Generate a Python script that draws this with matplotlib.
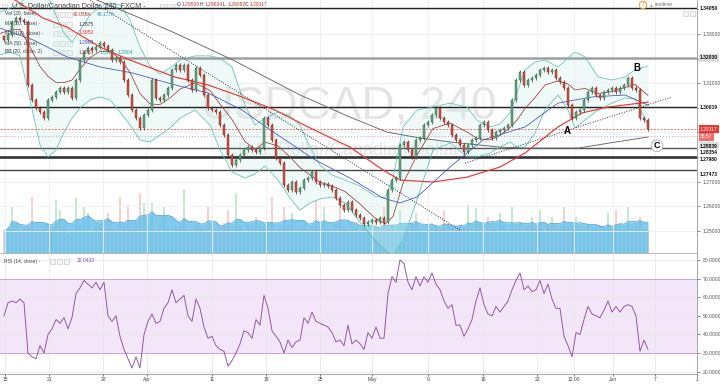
import numpy as np
import pandas as pd
import matplotlib
matplotlib.use("Agg")
import matplotlib.pyplot as plt
from matplotlib.patches import Rectangle

plt.rcParams.update({
    "font.family": ["Liberation Sans", "DejaVu Sans"],
    "font.size": 3.6,
    "axes.linewidth": 0.6,
})

# USDCAD 240 (one candle per ~8h, index = bar number)
closes = np.array([
    1.3276, 1.3296, 1.3349, 1.3365, 1.3357, 1.3349, 1.3093, 1.3032, 1.2999, 1.2983,
    1.2958, 1.3032, 1.3044, 1.3064, 1.3080, 1.3064, 1.3080, 1.3040, 1.3113, 1.3194,
    1.3227, 1.3243, 1.3235, 1.3247, 1.3263, 1.3251, 1.3235, 1.3194, 1.3202, 1.3186,
    1.3113, 1.3052, 1.2991, 1.2958, 1.2918, 1.2971, 1.2991, 1.3113, 1.3040, 1.3032,
    1.3052, 1.3080, 1.3154, 1.3174, 1.3154, 1.3174, 1.3113, 1.3072, 1.3162, 1.3133,
    1.3052, 1.2999, 1.2991, 1.2983, 1.2930, 1.2889, 1.2808, 1.2767, 1.2788, 1.2808,
    1.2828, 1.2840, 1.2828, 1.2820, 1.2836, 1.2958, 1.2930, 1.2869, 1.2796, 1.2775,
    1.2686, 1.2666, 1.2698, 1.2658, 1.2674, 1.2706, 1.2714, 1.2739, 1.2698, 1.2686,
    1.2690, 1.2682, 1.2666, 1.2633, 1.2605, 1.2584, 1.2617, 1.2584, 1.2564, 1.2552,
    1.2527, 1.2535, 1.2544, 1.2535, 1.2552, 1.2535, 1.2666, 1.2706, 1.2714, 1.2848,
    1.2860, 1.2828, 1.2800, 1.2869, 1.2877, 1.2930, 1.2942, 1.2971, 1.2999, 1.2958,
    1.2942, 1.2930, 1.2889, 1.2869, 1.2848, 1.2820, 1.2848, 1.2869, 1.2877, 1.2930,
    1.2942, 1.2910, 1.2877, 1.2901, 1.2910, 1.2918, 1.2930, 1.3032, 1.3113, 1.3146,
    1.3093, 1.3113, 1.3121, 1.3133, 1.3154, 1.3162, 1.3146, 1.3154, 1.3121, 1.3105,
    1.3080, 1.3011, 1.2958, 1.2983, 1.2991, 1.3032, 1.3064, 1.3080, 1.3052, 1.3040,
    1.3064, 1.3072, 1.3080, 1.3064, 1.3080, 1.3093, 1.3121, 1.3080, 1.3072, 1.2958,
    1.2950, 1.29117,
])
open0 = 1.3290

volume_k = np.array([
    40, 48, 84, 52, 36, 45, 50, 102, 44, 38,
    47, 55, 42, 96, 78, 49, 35, 44, 100, 51,
    84, 73, 39, 48, 53, 41, 73, 46, 37, 102,
    50, 87, 43, 55, 109, 91, 48, 91, 40, 52,
    84, 45, 36, 49, 54, 115, 42, 38, 51, 47,
    44, 84, 50, 39, 46, 55, 78, 41, 109, 48,
    37, 52, 45, 65, 49, 43, 56, 102, 40, 47,
    84, 51, 73, 38, 45, 53, 42, 48, 96, 50,
    84, 44, 39, 52, 84, 47, 41, 55, 46, 38,
    50, 43, 49, 54, 40, 84, 45, 52, 39, 78,
    48, 42, 55, 73, 46, 37, 51, 44, 49, 41,
    78, 53, 45, 39, 50, 47, 87, 43, 82, 52,
    40, 65, 48, 44, 73, 51, 38, 84, 46, 53,
    42, 49, 65, 45, 78, 39, 52, 65, 47, 41,
    84, 50, 44, 65, 48, 38, 53, 46, 42, 51,
    45, 73, 39, 78, 52, 47, 84, 43, 49, 65,
    44, 42,
])

rsi = np.array([
    50, 57, 58, 57, 59, 57, 30, 28, 27, 34,
    30, 40, 43, 48, 46, 49, 43, 49, 62, 65,
    69, 67, 65, 68, 64, 68, 50, 47, 50, 39,
    32, 27, 22, 28, 22, 40, 47, 51, 46, 47,
    54, 57, 64, 57, 59, 61, 50, 47, 59, 54,
    44, 38, 39, 34, 32, 31, 23, 26, 30, 35,
    42, 41, 38, 48, 45, 61, 54, 42, 39, 36,
    30, 37, 33, 36, 37, 49, 46, 52, 47, 46,
    45, 44, 41, 36, 37, 34, 45, 35, 37, 35,
    32, 41, 38, 44, 38, 38, 62, 71, 68, 80,
    78, 68, 64, 71, 66, 71, 68, 73, 67, 64,
    58, 54, 56, 45, 45, 39, 43, 48, 58, 65,
    56, 51, 50, 55, 52, 55, 58, 64, 69, 73,
    64, 66, 63, 64, 69, 62, 67, 59, 54, 54,
    39, 34, 28, 41, 40, 48, 55, 51, 50, 49,
    53, 58, 52, 55, 52, 55, 56, 55, 50, 31,
    37, 32.0432,
])

bb_x = [-1, 1.5, 4, 6.5, 9, 11, 13, 15, 17, 19, 21.5, 24, 26.5, 29, 31.5, 34, 36.5, 39,
        41.5, 44, 47.75, 51.5, 54, 57, 60.25, 62.75, 65.25, 68.5, 71.5, 74, 76.5, 79, 82,
        85.25, 89, 92.75, 95.25, 97.25, 99.75, 103.25, 107.25, 111.5, 115.75, 118.25,
        121.5, 124, 126.5, 128.25, 130.25, 132.75, 135.25, 138.5, 141, 142.75, 145.25,
        148.5, 152, 155.25, 157.75, 161]
bb_upper = [1.3389, 1.3406, 1.3426, 1.3463, 1.3487, 1.3455, 1.3377, 1.3304, 1.3267, 1.3316,
            1.3377, 1.3414, 1.3426, 1.3418, 1.3357, 1.3247, 1.3170, 1.3137, 1.3162, 1.3194,
            1.3211, 1.3211, 1.3202, 1.3166, 1.3011, 1.2930, 1.2958, 1.2983, 1.2967, 1.2930,
            1.2840, 1.2767, 1.2727, 1.2706, 1.2682, 1.2641, 1.2633, 1.2714, 1.2922, 1.2991,
            1.3003, 1.3019, 1.3003, 1.2950, 1.2922, 1.2934, 1.2979, 1.3060, 1.3154, 1.3186,
            1.3194, 1.3166, 1.3202, 1.3227, 1.3207, 1.3125, 1.3113, 1.3125, 1.3154, 1.3170]
bb_lower = [1.3215, 1.3227, 1.3211, 1.3032, 1.2849, 1.2800, 1.2828, 1.2901, 1.2958, 1.2999,
            1.3032, 1.3044, 1.3032, 1.2983, 1.2930, 1.2869, 1.2861, 1.2889, 1.2918, 1.2958,
            1.2991, 1.2930, 1.2828, 1.2739, 1.2714, 1.2731, 1.2763, 1.2706, 1.2633, 1.2584,
            1.2613, 1.2629, 1.2637, 1.2613, 1.2535, 1.2462, 1.2422, 1.2401, 1.2462, 1.2625,
            1.2828, 1.2857, 1.2800, 1.2800, 1.2816, 1.2840, 1.2861, 1.2840, 1.2840, 1.2897,
            1.2991, 1.3052, 1.2991, 1.2918, 1.2950, 1.2991, 1.3019, 1.3040, 1.3036, 1.2930]

ma50_x = [-1, 7.25, 15.75, 24, 32.25, 42.75, 51, 59.5, 67.75, 77.75, 86.5, 94.75, 99,
          103.25, 111.5, 119.75, 130.25, 138.5, 147, 155.25, 161]
ma50 = [1.3324, 1.3276, 1.3207, 1.3166, 1.3141, 1.3093, 1.3060, 1.2991, 1.2897, 1.2788,
        1.2714, 1.2633, 1.2613, 1.2637, 1.2759, 1.2869, 1.2922, 1.3019, 1.3044, 1.3052, 1.3011]
ma100_x = [-1, 2.75, 9.75, 15.75, 24, 31.5, 42.75, 51, 59.5, 67.75, 76, 86.5, 94.75, 99,
           107.25, 115.75, 124, 130.25, 138.5, 144.5, 151, 161]
ma100 = [1.3458, 1.3438, 1.3365, 1.3328, 1.3247, 1.3194, 1.3125, 1.3093, 1.3044, 1.2991,
         1.2922, 1.2840, 1.2747, 1.2706, 1.2698, 1.2718, 1.2759, 1.2816, 1.2922, 1.2979,
         1.3003, 1.3023]
ma200_x = [19, 23.25, 34, 42.75, 57.25, 74, 86.5, 95.75, 104, 111.5, 124, 130.25, 143.5,
           151.5, 161]
ma200 = [1.3471, 1.3438, 1.3365, 1.3304, 1.3194, 1.3052, 1.2962, 1.2901, 1.2877, 1.2861,
         1.2840, 1.2836, 1.2836, 1.2857, 1.2881]

trend_dn_x, trend_dn = [21.5, 114.0], [1.3438, 1.2503]
trend_up_x, trend_up = [115.25, 167.0], [1.2775, 1.3044]

levels = [1.34050, 1.32030, 1.30019, 1.28839, 1.28354, 1.27980, 1.27473]
level_colors = ["#222222", "#a0a0a0", "#222222", "#b8b8b8", "#555555", "#333333", "#444444"]
level_widths = [1.0, 1.8, 1.0, 0.8, 1.0, 1.9, 1.0]
level_styles = ["-", "-", "-", ":", "-", "-", "-"]
level_label_shift = [0, 0, 0, 9.7, 4.3, 1.9, 4.4]  # px, labels stacked by the app
last_price = 1.29117

date_pos = [0.25, 11.25, 24.75, 35.75, 52, 65.5, 79, 92, 106, 119.75, 133.25, 142.5,
            152.25, 162.75, 173.25]
date_labels = ["15", "21", "28", "Apr", "11", "18", "25", "May", "9", "16", "23", "12:00",
               "Jun", "7", "1"]
price_ticks = [1.25, 1.26, 1.27, 1.28, 1.29, 1.30, 1.31, 1.32, 1.33, 1.34]
price_shown = [1.25, 1.26, 1.27, 1.31, 1.33]
rsi_ticks = [20, 30, 40, 50, 60, 70, 80]

UP, UP_EDGE = "#6ba583", "#225437"
DN, DN_EDGE = "#d75442", "#5b1a13"
TEAL = "#5fbfb4"
W, H = 720, 384


def fx(px):
    return px / W


def fy(py):
    return 1 - py / H


def icons(px, py, k=3):
    for j in range(k):
        fig.add_artist(Rectangle((fx(px + j * 7), fy(py) - 2.6 / H), 5 / W, 5 / H,
                                 transform=fig.transFigure, fc="#f4f4f4", ec="#c4c4c4", lw=0.4))


fig = plt.figure(figsize=(7.2, 3.84), dpi=100)
ax = fig.add_axes([0, fy(253), fx(697), 253 / H])
axr = fig.add_axes([0, fy(374), fx(697), 121 / H], sharex=ax)
axv = ax.twinx()
ax.set_zorder(axv.get_zorder() + 1)
ax.patch.set_visible(False)

n = len(closes)
idx = np.arange(n)
opens = np.r_[open0, closes[:-1]]
up = closes >= opens

# volume + its MA (bottom of price pane)
axv.bar(idx, volume_k, width=0.55, color=np.where(up, "#7fcf94", "#e8998f"), alpha=0.45, lw=0)
vol_ma = pd.Series(volume_k).rolling(9, min_periods=1).mean()
axv.fill_between(idx, 0, vol_ma, color="#62bbe9", alpha=0.8, lw=0)
axv.plot(idx, vol_ma, color="#3a98d4", lw=0.5)
axv.set_ylim(0, 460)
axv.axis("off")

# watermark
ax.text(0.5, 0.577, "USDCAD, 240", transform=ax.transAxes, fontsize=33, color="#e4e4e4",
        ha="center", va="center", zorder=0)
ax.text(0.5, 0.405, "U.S. Dollar/Canadian Dollar", transform=ax.transAxes, fontsize=13,
        color="#e4e4e4", ha="center", va="center", zorder=0)

# Bollinger bands and moving averages
ax.fill_between(bb_x, bb_lower, bb_upper, color="#cdeeea", alpha=0.3, lw=0, zorder=1)
ax.plot(bb_x, bb_upper, color=TEAL, lw=0.55, zorder=3)
ax.plot(bb_x, bb_lower, color=TEAL, lw=0.55, zorder=3)
ax.plot(bb_x, (np.array(bb_upper) + np.array(bb_lower)) / 2, color="#9b3a3a", lw=0.55, zorder=3)
ax.plot(ma50_x, ma50, color="#3f51b5", lw=0.55, zorder=3)
ax.plot(ma100_x, ma100, color="#e53935", lw=0.85, zorder=3)
ax.plot(ma200_x, ma200, color="#666666", lw=0.65, zorder=3)
ax.plot(trend_dn_x, trend_dn, color="#333333", lw=0.7, ls=(0, (1, 1.6)), zorder=3)
ax.plot(trend_up_x, trend_up, color="#333333", lw=0.7, ls=(0, (1, 1.6)), zorder=3)

# horizontal levels
for lev, c, lw, ls in zip(levels, level_colors, level_widths, level_styles):
    ax.axhline(lev, color=c, lw=lw, ls=ls, zorder=2)
ax.axhline(last_price, color="#e57373", lw=0.7, ls=(0, (2, 1.5)), zorder=2)

# candles
lo, hi = np.minimum(opens, closes), np.maximum(opens, closes)
wick = 0.0007
edges = np.where(up, UP_EDGE, DN_EDGE)
ax.vlines(idx, lo - wick, hi + wick, colors=edges, lw=0.5, zorder=4)
ax.bar(idx, hi - lo, bottom=lo, width=0.6, color=np.where(up, UP, DN), edgecolor=edges,
       linewidth=0.3, zorder=5)

# wave labels
ax.text(140.75, 1.2905, "A", fontsize=7, fontweight="bold", ha="center", va="center", zorder=7)
ax.text(158.25, 1.3162, "B", fontsize=7, fontweight="bold", ha="center", va="center", zorder=7)
ax.text(163.25, 1.2845, "C", fontsize=6.5, fontweight="bold", ha="center", va="center", zorder=7,
        bbox=dict(boxstyle="circle,pad=0.15", fc="white", ec="#999999", lw=0.5))

# price axis
ax.set_xlim(-1, 173.25)
ax.set_ylim(1.24094, 1.34383)
ax.set_yticks(price_ticks)
ax.set_yticklabels([f"{t:.5f}" if round(t, 2) in price_shown else "" for t in price_ticks])
ax.tick_params(axis="y", left=False, labelleft=False, right=True, labelright=True,
               length=2, pad=2, colors="#555555", labelsize=3.6, width=0.5)
ax.set_xticks(date_pos)
ax.tick_params(axis="x", bottom=False, labelbottom=False)
ax.grid(True, color="#efefef", lw=0.6, zorder=0)
for s in ("left", "top"):
    ax.spines[s].set_visible(False)
ax.spines["right"].set_color("#999999")
ax.spines["bottom"].set_color("#b0b0b0")

for lev, c, dy in zip(levels, level_colors, level_label_shift):
    light = c in ("#a0a0a0", "#b8b8b8")
    ax.annotate(f"{lev:.5f}", xy=(1, lev), xycoords=("axes fraction", "data"),
                xytext=(2.2, -dy * 0.72), textcoords="offset points", va="center", ha="left",
                fontsize=3.6, fontweight="bold", color="#111111", annotation_clip=False,
                bbox=dict(boxstyle="square,pad=0.25", fc="#dedede" if light else "white", ec="none"))
ax.annotate(f"{last_price:.5f}", xy=(1, last_price), xycoords=("axes fraction", "data"),
            xytext=(2.2, 0), textcoords="offset points", va="center", ha="left", fontsize=3.6,
            color="white", annotation_clip=False,
            bbox=dict(boxstyle="square,pad=0.3", fc="#e53935", ec="none"))
ax.annotate("35:57", xy=(1, last_price), xycoords=("axes fraction", "data"),
            xytext=(2.2, -5.2), textcoords="offset points", va="center", ha="left", fontsize=3.6,
            color="white", annotation_clip=False,
            bbox=dict(boxstyle="square,pad=0.3", fc="#ef6c6c", ec="none"))

# RSI pane
axr.axhspan(30, 70, color="#f3e6f8", lw=0, zorder=0)
axr.axhline(70, color="#c9a6d8", lw=0.7, zorder=1)
axr.axhline(30, color="#c9a6d8", lw=0.7, zorder=1)
axr.plot(idx, rsi, color="#8e4f9e", lw=0.65, zorder=3)
axr.set_ylim(18.8, 83.7)
axr.set_yticks(rsi_ticks)
axr.set_yticklabels([f"{t:.4f}" for t in rsi_ticks])
axr.tick_params(axis="y", left=False, labelleft=False, right=True, labelright=True,
                length=2, pad=2, colors="#555555", labelsize=3.6, width=0.5)
axr.set_xticks(date_pos)
axr.set_xticklabels(date_labels)
axr.tick_params(axis="x", length=1.5, pad=0.8, colors="#444444", labelsize=3.6, width=0.5)
axr.grid(True, color="#e9e9e9", lw=0.6, zorder=0)
axr.set_axisbelow(True)
for s in ("left", "top"):
    axr.spines[s].set_visible(False)
axr.spines["right"].set_color("#999999")
axr.spines["bottom"].set_color("#999999")

# header / legend texts
icons(2, 6, 1)
fig.text(fx(12), fy(6), "U.S. Dollar/Canadian Dollar, 240, FXCM -", fontsize=5.2,
         color="#444444", va="center")
icons(160, 6)
ohlc = [("O", "1.29520", 177), ("H", "1.29634", 200), ("L", "1.29082", 223), ("C", "1.29117", 245)]
for letter, val, px in ohlc:
    fig.text(fx(px), fy(5), letter, fontsize=3.6, color="#333333", va="center")
    fig.text(fx(px + 4.5), fy(5), val, fontsize=3.6, color="#c0392b", va="center")

rows = [("Vol (20, false) -", 14), ("MA (20, close) -", 24), ("MA (100, close) -", 33),
        ("MA (50, close) -", 43), ("BB (20, close, 2)", 52)]
for name, py in rows:
    fig.text(fx(5), fy(py), name, fontsize=3.6, color="#444444", va="center")
    icons(53, py)
fig.text(fx(73), fy(14), "42.055K", fontsize=3.6, color="#a03030", va="center")
fig.text(fx(97), fy(14), "46.177K", fontsize=3.6, color="#2f8fcf", va="center")
fig.text(fx(79), fy(24), "1.2875", fontsize=3.6, color="#333333", va="center")
fig.text(fx(79), fy(33), "1.3050", fontsize=3.6, color="#e53935", va="center")
fig.text(fx(79), fy(43), "1.2988", fontsize=3.6, color="#3f51b5", va="center")
fig.text(fx(79), fy(52), "1.3033", fontsize=3.6, color="#9b3a3a", va="center")
fig.text(fx(100), fy(52), "1.3162", fontsize=3.6, color="#26a69a", va="center")
fig.text(fx(118), fy(52), "1.2904", fontsize=3.6, color="#26a69a", va="center")

fig.text(fx(4), fy(261), "RSI (14, close) -", fontsize=3.6, color="#444444", va="center")
icons(50, 261)
fig.text(fx(77), fy(261), "32.0432", fontsize=3.6, color="#8e4f9e", va="center")

fig.text(fx(643), fy(5), "!", fontsize=3.6, color="#f08c1a", ha="center", va="center",
         fontweight="bold", bbox=dict(boxstyle="circle,pad=0.25", fc="white", ec="#f08c1a", lw=0.6))
fig.text(fx(650), fy(5), "\u25cf", fontsize=3.2, color="#43a047", va="center")
fig.text(fx(655), fy(5), "realtime", fontsize=3.6, color="#777777", va="center")
icons(683, 13, 2)

fig.savefig("out.png", dpi=100)
